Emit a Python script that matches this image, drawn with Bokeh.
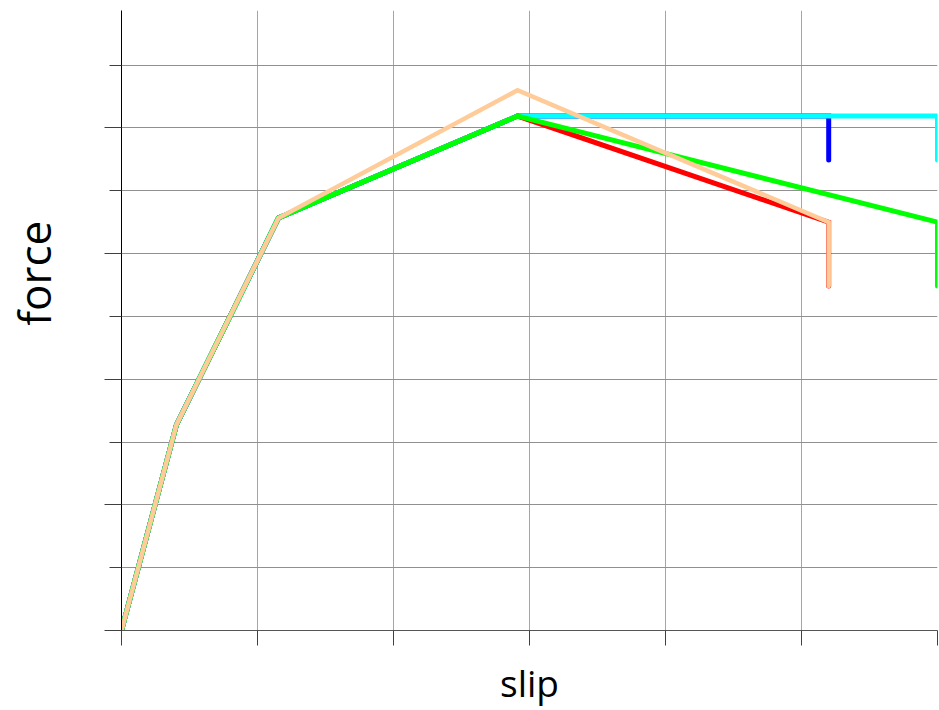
from math import pi
from bokeh.plotting import figure
from bokeh.models import Range1d, FixedTicker
from bokeh.layouts import row
from bokeh.core.properties import value
from bokeh.embed import file_html
from bokeh.resources import INLINE

# data (in grid units)
red_x = [0, 0.404, 1.154, 2.912, 5.2, 5.2]
red_y = [0, 3.275, 6.566, 8.19, 6.50, 5.485]
blue_x = [0, 0.404, 1.154, 2.912, 5.2, 5.2]
blue_y = [0, 3.275, 6.566, 8.19, 8.19, 7.49]
cyan_x = [0, 0.404, 1.154, 2.912, 6.0, 6.0]
cyan_y = [0, 3.275, 6.566, 8.19, 8.19, 7.49]
green_x = [0, 0.404, 1.154, 2.912, 6.0, 6.0]
green_y = [0, 3.275, 6.566, 8.19, 6.50, 5.485]
orange_x = [0, 0.404, 1.154, 2.912, 5.2, 5.2]
orange_y = [0, 3.275, 6.566, 8.60, 6.50, 5.485]

x_ticks = [0, 1, 2, 3, 4, 5, 6]
y_major = [0, 2, 4, 6, 8]
y_minor = [1, 3, 5, 7, 9]
y_grid = [0, 1, 2, 3, 4, 5, 6, 7, 8, 9]
x_label = "slip"
y_label = ["force"]

# narrow panel holding the rotated y title
lab = figure(width=100, height=710, output_backend="svg", toolbar_location=None,
             x_range=Range1d(0, 100), y_range=Range1d(0, 710),
             min_border_left=0, min_border_right=0, min_border_top=0, min_border_bottom=0,
             x_axis_type=None, y_axis_type=None)
lab.outline_line_color = None
lab.xgrid.visible = False
lab.ygrid.visible = False
lab.text(x=[33], y=[409], text=y_label, angle=pi / 2, text_align="center",
         text_baseline="middle", text_font=value("Open Sans"), text_font_size="44px",
         text_color="black")

p = figure(width=839, height=710, output_backend="svg", toolbar_location=None,
           x_range=Range1d(0, 6), y_range=Range1d(0, 9.87),
           min_border_left=21, min_border_right=2, min_border_top=10, min_border_bottom=79)
p.outline_line_color = None
p.background_fill_color = "white"
p.border_fill_color = "white"

p.xaxis.ticker = FixedTicker(ticks=x_ticks)
p.yaxis.ticker = FixedTicker(ticks=y_major, minor_ticks=y_minor)
p.xgrid.ticker = FixedTicker(ticks=x_ticks)
p.ygrid.ticker = FixedTicker(ticks=y_grid)
p.xgrid.grid_line_color = "#a6a6a6"
p.ygrid.grid_line_color = "#909090"
p.xgrid.grid_line_width = 1
p.ygrid.grid_line_width = 1

for ax in (p.xaxis, p.yaxis):
    ax.major_label_text_font_size = "0px"
    ax.major_label_text_color = None
    ax.major_tick_in = 0
    ax.minor_tick_in = 0

p.xaxis.axis_line_color = "#555555"
p.xaxis.major_tick_out = 15
p.xaxis.major_tick_line_color = "#404040"
p.xaxis.minor_tick_line_color = None
p.xaxis.major_label_standoff = 0
p.xaxis.axis_label = x_label
p.xaxis.axis_label_text_font = "Open Sans"
p.xaxis.axis_label_text_font_size = "37px"
p.xaxis.axis_label_text_font_style = "normal"
p.xaxis.axis_label_text_color = "black"
p.xaxis.axis_label_standoff = 11

p.yaxis.axis_line_color = "black"
p.yaxis.major_tick_out = 17
p.yaxis.minor_tick_out = 12
p.yaxis.major_tick_line_color = "#404040"
p.yaxis.minor_tick_line_color = "#404040"

kw = dict(line_width=5, line_join="miter", line_cap="round")
p.line(red_x, red_y, line_color="#ff0000", **kw)
p.line(blue_x, blue_y, line_color="#0000ff", **kw)
p.line(cyan_x, cyan_y, line_color="#00ffff", **kw)
p.line(green_x, green_y, line_color="#00ff00", **kw)
p.line(orange_x, orange_y, line_color="#ffcc99", line_width=4.5, line_join="miter", line_cap="round")

layout = row(lab, p, spacing=0)
open("out.html", "w").write(file_html(layout, INLINE))
